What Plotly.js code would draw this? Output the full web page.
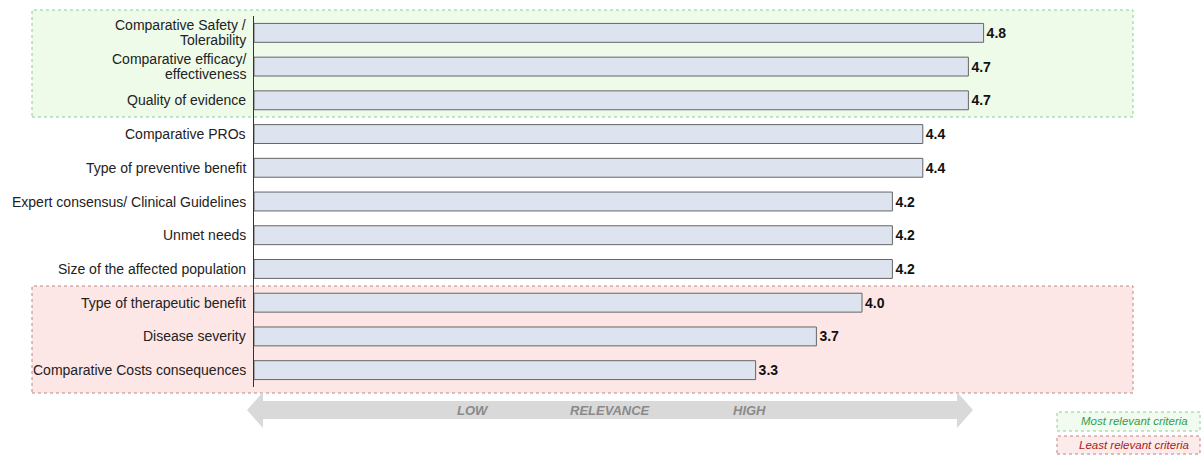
<!DOCTYPE html>
<html>
<head>
<meta charset="utf-8">
<script src="https://cdn.plot.ly/plotly-3.0.1.min.js"></script>
<style>
  html, body { margin: 0; padding: 0; background: #ffffff; }
  #chart { width: 1202px; height: 455px; }
</style>
</head>
<body>
<div id="chart"></div>
<script>
// Criteria, listed from top to bottom
const criteria = [
  "Comparative Safety /<br>Tolerability",
  "Comparative efficacy/<br>effectiveness",
  "Quality of evidence",
  "Comparative PROs",
  "Type of preventive benefit",
  "Expert consensus/ Clinical Guidelines",
  "Unmet needs",
  "Size of the affected population",
  "Type of therapeutic benefit",
  "Disease severity",
  "Comparative Costs consequences"
];

// Mean relevance score per criterion
const scores = [4.8, 4.7, 4.7, 4.4, 4.4, 4.2, 4.2, 4.2, 4.0, 3.7, 3.3];

// Arrow captions and legend entries
const scaleLabels = ["LOW", "RELEVANCE", "HIGH"];
const legendLabels = ["Most relevant criteria", "Least relevant criteria"];

// Plot-area geometry (pixels)
const L = 254, T = 16, W = 836, H = 371;
const FIG_W = 1202, FIG_H = 455;
const px = x => (x - L) / W;
const py = y => (T + H - y) / H;

const FONT = "Liberation Sans, Arial, sans-serif";

const trace = {
  type: "bar",
  orientation: "h",
  x: scores,
  y: criteria,
  width: 0.56,
  marker: { color: "#dde4ef", line: { color: "#666666", width: 1 } },
  text: scores.map(v => v.toFixed(1)),
  textposition: "outside",
  cliponaxis: false,
  textfont: { family: FONT, size: 14, color: "#111111", weight: "bold" },
  hoverinfo: "skip"
};

// Double-headed arrow polygon in paper coordinates
const ax0 = 247, ax1 = 973, ahead = 16, ayc = 410, aHead = 18, aBody = 9;
const arrowPts = [
  [ax0, ayc],
  [ax0 + ahead, ayc - aHead],
  [ax0 + ahead, ayc - aBody],
  [ax1 - ahead, ayc - aBody],
  [ax1 - ahead, ayc - aHead],
  [ax1, ayc],
  [ax1 - ahead, ayc + aHead],
  [ax1 - ahead, ayc + aBody],
  [ax0 + ahead, ayc + aBody],
  [ax0 + ahead, ayc + aHead]
];
const arrowPath = "M" + arrowPts.map(p => px(p[0]) + "," + py(p[1])).join(" L") + " Z";

function box(x0, y0, x1, y1, fill, line) {
  return {
    type: "rect", xref: "paper", yref: "paper", layer: "below",
    x0: px(x0), x1: px(x1), y0: py(y1), y1: py(y0),
    fillcolor: fill,
    line: { color: line, width: 1, dash: "dot" }
  };
}

const shapes = [
  box(32, 10, 1133, 117, "#eefbe9", "#8fcc98"),
  box(32, 286, 1133, 393, "#fde6e6", "#b58a8a"),
  {
    type: "path", xref: "paper", yref: "paper", layer: "below",
    path: arrowPath, fillcolor: "#d9d9d9", line: { width: 0 }
  },
  box(1057, 412, 1200, 431, "#f1fbef", "#8fcc98"),
  box(1057, 436, 1200, 454, "#fdeaea", "#c08080")
];

const annotations = [];

// Category labels, right-aligned, one annotation per text line
const LINE_H = 15;
criteria.forEach(c => {
  const lines = c.split("<br>");
  lines.forEach((ln, i) => annotations.push({
    xref: "paper", yref: "y", x: 0, y: c,
    xshift: -6, yshift: ((lines.length - 1) / 2 - i) * LINE_H,
    text: ln, showarrow: false, xanchor: "right", yanchor: "middle",
    font: { family: FONT, size: 14, color: "#222222" }
  }));
});

const scaleX = [473, 610, 749];
scaleLabels.forEach((t, i) => annotations.push({
  xref: "paper", yref: "paper", x: px(scaleX[i]), y: py(410),
  text: t, showarrow: false, xanchor: "center", yanchor: "middle",
  font: { family: FONT, size: 13, color: "#8a8a8a", weight: "bold", style: "italic" }
}));

const legendColors = ["#2f9e4c", "#a81a1a"];
const legendY = [421.5, 445];
legendLabels.forEach((t, i) => annotations.push({
  xref: "paper", yref: "paper", x: px(1134), y: py(legendY[i]),
  text: t, showarrow: false, xanchor: "center", yanchor: "middle",
  font: { family: FONT, size: 11.5, color: legendColors[i], style: "italic" }
}));

const layout = {
  width: FIG_W, height: FIG_H,
  margin: { l: L, r: FIG_W - L - W, t: T, b: FIG_H - T - H },
  paper_bgcolor: "#ffffff",
  plot_bgcolor: "rgba(0,0,0,0)",
  showlegend: false,
  font: { family: FONT, size: 14, color: "#222222" },
  xaxis: {
    range: [0, W / 152], showgrid: false, zeroline: false,
    showticklabels: false, ticks: "", showline: false, fixedrange: true
  },
  yaxis: {
    type: "category", categoryarray: criteria, categoryorder: "array",
    range: [criteria.length - 0.5, -0.5],
    showgrid: false, zeroline: false, ticks: "", showticklabels: false,
    showline: true, linecolor: "#333333", linewidth: 1,
    fixedrange: true
  },
  shapes: shapes,
  annotations: annotations
};

Plotly.newPlot("chart", [trace], layout, { displayModeBar: false, staticPlot: true });
</script>
</body>
</html>
